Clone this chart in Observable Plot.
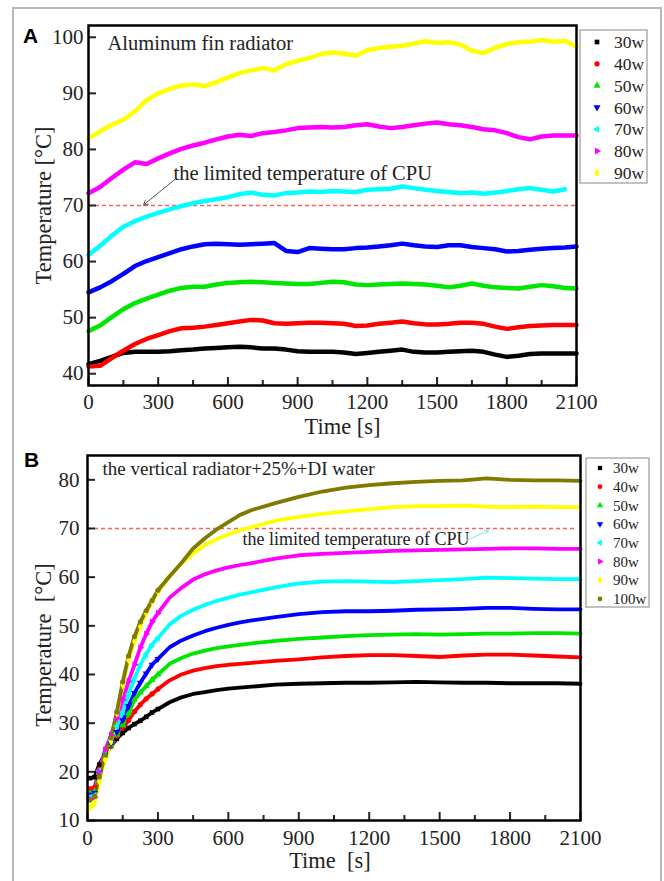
<!DOCTYPE html>
<html><head><meta charset="utf-8">
<script src="https://cdn.jsdelivr.net/npm/d3@7"></script>
<script src="https://cdn.jsdelivr.net/npm/@observablehq/plot@0.6"></script>
<style>
html,body{margin:0;padding:0;background:#fff;overflow:hidden;}
#wrap{position:relative;width:664px;height:881px;overflow:hidden;background:#fff;}
#border{position:absolute;left:12px;top:7px;width:650px;height:900px;border:2px solid #b8b8b8;box-sizing:border-box;}
.abs{position:absolute;left:0;}
</style></head><body><div id="wrap"><div id="border"></div></div>
<script>
// ---------- Panel A data (Aluminum fin radiator) ----------
const tA = [0,50,100,150,200,250,300,350,400,450,500,550,600,650,700,750,800,850,900,950,1000,1050,1100,1150,1200,1250,1300,1350,1400,1450,1500,1550,1600,1650,1700,1750,1800,1850,1900,1950,2000,2050,2100];
const a30 = [41.7,42.3,43.0,43.7,43.9,43.9,43.9,44.0,44.2,44.3,44.5,44.6,44.7,44.8,44.7,44.5,44.5,44.3,44.0,43.9,43.9,43.9,43.8,43.5,43.7,43.9,44.1,44.3,43.9,43.8,43.8,43.9,44.0,44.1,43.9,43.4,43.0,43.2,43.5,43.6,43.6,43.6,43.6];
const a40 = [41.3,41.4,42.8,44.1,45.3,46.2,46.9,47.6,48.1,48.2,48.4,48.7,49.0,49.3,49.6,49.5,49.0,48.9,49.0,49.1,49.1,49.0,48.9,48.5,48.6,48.9,49.1,49.3,49.0,48.8,48.8,48.9,49.1,49.1,48.9,48.4,48.0,48.3,48.5,48.6,48.7,48.7,48.7];
const a50 = [47.6,48.6,50.1,51.5,52.6,53.4,54.1,54.8,55.3,55.5,55.5,55.9,56.2,56.3,56.4,56.3,56.2,56.1,56.0,56.0,56.2,56.4,56.3,55.9,55.8,55.9,56.0,56.1,56.0,55.9,55.7,55.4,55.7,56.1,55.7,55.4,55.3,55.2,55.5,55.8,55.6,55.3,55.2];
const a60 = [54.5,55.4,56.5,57.8,59.2,60.1,60.8,61.5,62.2,62.7,63.1,63.2,63.1,63.0,63.1,63.2,63.3,61.9,61.7,62.4,62.3,62.2,62.2,62.4,62.5,62.7,62.9,63.2,62.9,62.7,62.6,62.9,62.9,62.6,62.4,62.2,61.8,61.9,62.1,62.3,62.4,62.5,62.7];
const a70 = [61.2,62.8,64.6,66.2,67.2,68.0,68.7,69.3,69.9,70.4,70.8,71.1,71.5,72.0,72.3,71.9,71.8,72.2,72.3,72.5,72.4,72.6,72.5,72.4,72.8,72.9,73.0,73.4,73.1,72.8,72.6,72.4,72.2,72.3,72.1,72.3,72.6,72.9,73.1,72.8,72.5,72.9,null];
const a80 = [72.2,73.3,74.9,76.4,77.7,77.4,78.4,79.3,80.1,80.7,81.2,81.8,82.3,82.6,82.4,82.9,83.1,83.4,83.8,83.9,84.0,83.9,84.0,84.3,84.5,84.1,83.8,84.0,84.3,84.6,84.8,84.5,84.3,84.0,83.6,83.4,82.9,82.2,81.8,82.3,82.5,82.5,82.5];
const a90 = [82.0,83.2,84.4,85.3,86.8,88.8,90.0,90.8,91.4,91.6,91.3,92.0,92.8,93.6,94.1,94.5,94.1,95.2,95.8,96.3,97.0,97.3,97.1,96.7,97.7,98.1,98.3,98.5,98.9,99.3,99.0,99.1,98.7,97.6,97.2,98.1,98.8,99.1,99.2,99.5,99.2,99.4,98.3];

// ---------- Panel B data (vertical radiator + 25% + DI water) ----------
const tB = [10,30,50,75,100,125,150,175,200,225,250,275,300,350,400,450,500,550,600,650,700,800,900,1000,1100,1200,1300,1400,1500,1600,1700,1800,1900,2000,2100];
const b30  = [18.7,18.9,21.5,23.8,25.3,26.8,28.0,29.0,29.8,30.5,31.3,32.2,32.9,34.3,35.3,36.0,36.4,36.8,37.1,37.3,37.5,37.9,38.1,38.2,38.3,38.3,38.4,38.5,38.4,38.3,38.3,38.2,38.2,38.2,38.1];
const b40  = [16.5,16.8,20.5,23.5,25.3,27.3,29.0,30.6,32.4,33.8,35.0,36.0,37.0,38.8,40.0,40.8,41.3,41.7,42.0,42.2,42.4,42.8,43.1,43.5,43.8,44.0,44.0,43.8,43.6,43.9,44.1,44.1,43.9,43.7,43.5];
const b50  = [15.6,16.0,20.0,23.3,25.5,27.6,29.6,32.0,34.8,36.3,37.6,38.9,40.0,42.2,43.4,44.3,44.9,45.4,45.8,46.1,46.4,46.9,47.3,47.6,47.9,48.1,48.2,48.3,48.2,48.3,48.4,48.4,48.5,48.5,48.4];
const b60  = [15.3,15.7,20.0,23.5,25.8,28.2,30.6,33.5,36.2,38.3,40.2,42.0,43.2,45.6,47.0,48.0,48.9,49.6,50.2,50.7,51.1,51.8,52.4,52.8,53.0,53.0,53.1,53.3,53.4,53.5,53.7,53.7,53.5,53.4,53.4];
const b70  = [14.8,15.2,20.2,24.0,26.5,29.4,32.3,36.0,39.2,42.0,44.2,46.1,47.5,50.3,52.1,53.3,54.3,55.1,55.8,56.4,56.9,57.9,58.7,59.1,59.2,59.1,59.0,59.2,59.4,59.6,59.9,59.8,59.7,59.6,59.6];
const b80  = [14.4,14.8,20.0,24.5,27.5,31.0,34.8,38.6,42.0,45.5,48.3,50.8,52.6,55.8,57.8,59.5,60.6,61.4,62.0,62.5,62.9,63.8,64.5,64.8,65.0,65.2,65.4,65.5,65.6,65.7,65.8,65.9,65.9,65.8,65.8];
const b90  = [12.6,13.5,18.0,22.5,26.2,32.0,37.8,43.0,46.8,49.8,52.6,55.0,57.0,60.2,62.8,64.8,66.6,67.8,68.8,69.6,70.3,71.6,72.4,73.0,73.5,74.0,74.4,74.6,74.6,74.7,74.5,74.4,74.5,74.4,74.4];
const b100 = [14.2,15.0,19.0,23.5,27.0,32.3,38.5,43.8,47.8,50.8,53.1,55.2,57.3,60.2,62.9,65.9,68.0,69.8,71.3,72.8,73.8,75.2,76.5,77.6,78.4,78.9,79.3,79.6,79.8,79.9,80.3,80.0,79.9,79.9,79.8];

// ---------- labels / ticks ----------
const namesA = ["30w","40w","50w","60w","70w","80w","90w"];
const namesB = ["30w","40w","50w","60w","70w","80w","90w","100w"];
const colors = ["#000000","#ff0000","#00e600","#0000ff","#00ffff","#ff00ff","#ffff00","#7f7a00"];
const xMajor = [0,300,600,900,1200,1500,1800,2100];
const xMinor = [150,450,750,1050,1350,1650,1950];
const yTicksA = [40,50,60,70,80,90,100];
const yTicksB = [10,20,30,40,50,60,70,80];
const limitTemp = 70;
const titleA = "Aluminum fin radiator";
const titleB = "the vertical radiator+25%+DI water";
const noteCPU = "the limited temperature of CPU";
const yLabelA = "Temperature [°C]";
const yLabelB = "Temperature  [°C]";
const xLabelA = "Time [s]";
const xLabelB = "Time  [s]";

// ---------- symbols ----------
const sqrt3 = Math.sqrt(3);
function tri(rot){return {draw(ctx,size){const y=-Math.sqrt(size/(sqrt3*3));const p=[[0,2*y],[-sqrt3*y,-y],[sqrt3*y,-y]].map(([a,b])=>rot(a,b));ctx.moveTo(p[0][0],p[0][1]);ctx.lineTo(p[1][0],p[1][1]);ctx.lineTo(p[2][0],p[2][1]);ctx.closePath();}};}
const symbols = [d3.symbolSquare, d3.symbolCircle, d3.symbolTriangle, tri((x,y)=>[x,-y]), tri((x,y)=>[y,x]), tri((x,y)=>[-y,x]), d3.symbolDiamond, d3.symbolCircle];

const valsA = [a30,a40,a50,a60,a70,a80,a90];
const valsB = [b30,b40,b50,b60,b70,b80,b90,b100];
const rowsA = namesA.map((n,k)=>tA.map((t,i)=>({t,T:valsA[k][i],name:n})).filter(d=>d.T!=null));
const rowsB = namesB.map((n,k)=>tB.map((t,i)=>({t,T:valsB[k][i],name:n})));

const serif = '"Liberation Serif","Times New Roman",serif';
const wrap = document.getElementById("wrap");
const txt = {lineAnchor:"middle", fill:"#222"};

// ---------- Panel A ----------
const plotA = Plot.plot({
  width:664, height:440,
  marginLeft:88, marginRight:88, marginTop:25, marginBottom:55,
  x:{domain:[0,2100]},
  y:{domain:[37.9,102.1]},
  style:{background:"transparent", fontFamily:serif, fontSize:"21px", color:"#222", overflow:"visible"},
  marks:[
    Plot.ruleY([limitTemp],{stroke:"#ff5c5c",strokeDasharray:"4,3",strokeWidth:1.4}),
    ...rowsA.map((r,k)=>Plot.line(r,{x:"t",y:"T",stroke:colors[k],strokeWidth:4.5})),
    Plot.axisX({ticks:xMajor,tickSize:-8,tickFormat:()=>"",strokeWidth:2,label:null}),
    Plot.axisX({ticks:xMinor,tickSize:-5,tickFormat:()=>"",strokeWidth:2,label:null}),
    Plot.axisX({ticks:xMajor,tickSize:0,tickPadding:9,label:null,tickFormat:d=>String(d),fontSize:21}),
    Plot.axisY({ticks:yTicksA,tickSize:-8,tickFormat:()=>"",strokeWidth:2,label:null}),
    Plot.axisY({ticks:yTicksA,tickSize:0,tickPadding:5,label:null,tickFormat:d=>String(d),fontSize:21}),
    Plot.frame({stroke:"#000",strokeWidth:2.5}),
    Plot.text([titleA],{...txt,frameAnchor:"top-left",dx:19,dy:18,textAnchor:"start",fontSize:20.5}),
    Plot.text([noteCPU],{...txt,frameAnchor:"top-left",dx:85,dy:148,textAnchor:"start",fontSize:20.5}),
    Plot.arrow([{x1:379,y1:74.9,x2:237,y2:70.1}],{x1:"x1",y1:"y1",x2:"x2",y2:"y2",stroke:"#555",strokeWidth:1,headLength:7}),
    Plot.text([yLabelA],{...txt,frameAnchor:"left",textAnchor:"middle",rotate:-90,dx:-45,fontSize:22.5}),
    Plot.text([xLabelA],{...txt,frameAnchor:"bottom",textAnchor:"middle",dx:10,dy:41,fontSize:22.5})
  ]
});
plotA.classList.add("abs"); plotA.style.top="0px";
wrap.appendChild(plotA);

// ---------- Panel B ----------
const plotB = Plot.plot({
  width:664, height:451,
  marginLeft:87, marginRight:84, marginTop:25, marginBottom:61,
  x:{domain:[0,2100]},
  y:{domain:[10,85]},
  style:{background:"transparent", fontFamily:serif, fontSize:"21px", color:"#222", overflow:"visible"},
  marks:[
    Plot.ruleY([limitTemp],{x1:0,x2:2075,stroke:"#ff5c5c",strokeDasharray:"4,3",strokeWidth:1.4}),
    ...rowsB.map((r,k)=>Plot.line(r,{x:"t",y:"T",stroke:colors[k],strokeWidth:3.8})),
    ...rowsB.map((r,k)=>Plot.dot(r.filter(d=>d.t<=300),{x:"t",y:"T",fill:colors[k],r:2.6,symbol:symbols[k]})),
    Plot.axisX({ticks:xMajor,tickSize:-8,tickFormat:()=>"",strokeWidth:2,label:null}),
    Plot.axisX({ticks:xMinor,tickSize:-5,tickFormat:()=>"",strokeWidth:2,label:null}),
    Plot.axisX({ticks:xMajor,tickSize:0,tickPadding:10,label:null,tickFormat:d=>String(d),fontSize:21}),
    Plot.axisY({ticks:yTicksB,tickSize:-8,tickFormat:()=>"",strokeWidth:2,label:null}),
    Plot.axisY({ticks:yTicksB,tickSize:0,tickPadding:8,label:null,tickFormat:d=>String(d),fontSize:21}),
    Plot.frame({stroke:"#000",strokeWidth:2.5}),
    Plot.text([titleB],{...txt,frameAnchor:"top-left",dx:15,dy:13,textAnchor:"start",fontSize:19}),
    Plot.text([noteCPU],{...txt,frameAnchor:"top-left",dx:155,dy:84,textAnchor:"start",fontSize:18}),
    Plot.arrow([{x1:1618,y1:67.6,x2:1708,y2:69.6}],{x1:"x1",y1:"y1",x2:"x2",y2:"y2",stroke:"#7fe8ee",strokeWidth:1,headLength:6}),
    Plot.text([yLabelB],{...txt,frameAnchor:"left",textAnchor:"middle",rotate:-90,dx:-44,dy:7,fontSize:22.5}),
    Plot.text([xLabelB],{...txt,frameAnchor:"bottom",textAnchor:"middle",dx:-4,dy:40,fontSize:22.5})
  ]
});
plotB.classList.add("abs"); plotB.style.top="430px";
wrap.appendChild(plotB);

// ---------- Legends and panel letters ----------
const ov = d3.select(wrap).append("svg").attr("class","abs").style("top","0px")
  .attr("width",664).attr("height",881).style("pointer-events","none");
function legend(names, box, mx, tx, y0, dy, fs, msize){
  ov.append("rect").attr("x",box[0]).attr("y",box[1]).attr("width",box[2]).attr("height",box[3])
    .attr("fill","#fff").attr("stroke","#9a9a9a").attr("stroke-width",1.2);
  names.forEach((n,i)=>{
    const y = y0 + i*dy;
    ov.append("path").attr("d",d3.symbol(symbols[i],msize)()).attr("transform",`translate(${mx},${y})`).attr("fill",colors[i]);
    ov.append("text").attr("x",tx).attr("y",y).attr("dy","0.35em").attr("font-family",serif)
      .attr("font-size",fs).attr("fill","#222").text(n);
  });
}
legend(namesA,[580,30,67,153],597,614,42,21.8,17.5,22);
legend(namesB,[586,458,63,149],600,613,468,18.7,15,18);
ov.append("text").attr("x",23).attr("y",43).attr("font-family",'"Liberation Sans",Arial,sans-serif')
  .attr("font-weight","bold").attr("font-size",21).text("A");
ov.append("text").attr("x",24).attr("y",467).attr("font-family",'"Liberation Sans",Arial,sans-serif')
  .attr("font-weight","bold").attr("font-size",21).text("B");
</script></body></html>
